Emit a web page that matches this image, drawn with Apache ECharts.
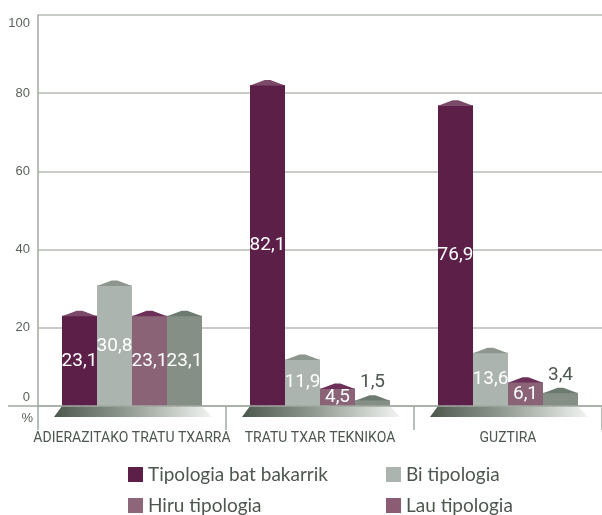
<!DOCTYPE html>
<html>
<head>
<meta charset="utf-8">
<script src="https://cdn.jsdelivr.net/npm/echarts@6/dist/echarts.min.js"></script>
<style>
html,body{margin:0;padding:0;background:#fff;}
#c{width:602px;height:515px;}
</style>
</head>
<body>
<div id="c"></div>
<script>
const categories = ['ADIERAZITAKO TRATU TXARRA', 'TRATU TXAR TEKNIKOA', 'GUZTIRA'];
const seriesNames = ['Tipologia bat bakarrik', 'Bi tipologia', 'Hiru tipologia', 'Lau tipologia'];
const tipologia1 = [23.1, 82.1, 76.9];
const tipologia2 = [30.8, 11.9, 13.6];
const tipologia3 = [23.1, 4.5, 6.1];
const tipologia4 = [23.1, 1.5, 3.4];
const yMin = 0, yMax = 100, yStep = 20;

const allValues = [tipologia1, tipologia2, tipologia3, tipologia4];
const barColors = ['#5b1f48', '#abb4ae', '#8b6377', '#858f86'];
const capColors = ['#7c4a69', '#8c968e', '#6c3059', '#6d7a70'];
const legendColors = ['#5b1f48', '#abb4ae', '#8d6679', '#8b5c74'];
const BAR_W = 35;
const narrow = "'Roboto', 'Liberation Sans', sans-serif";
const fmt = v => String(v).replace('.', ',');

const chart = echarts.init(document.getElementById('c'), null, {renderer: 'canvas'});

const series = [];
allValues.forEach((vals, i) => {
  series.push({
    name: seriesNames[i],
    type: 'bar',
    barWidth: BAR_W,
    barGap: '0%',
    z: 3,
    itemStyle: {color: barColors[i]},
    data: vals.map(v => {
      const small = v < 4;
      return {
        value: v,
        label: {
          show: true,
          position: small ? 'top' : 'inside',
          distance: 8,
          formatter: p => fmt(p.value),
          color: small ? '#4d564f' : '#ffffff',
          fontSize: 19,
          fontFamily: narrow
        }
      };
    })
  });
});
// pyramid caps on top of bars
allValues.forEach((vals, i) => {
  series.push({
    name: 'cap' + i,
    type: 'custom',
    z: 4,
    silent: true,
    encode: {x: 0, y: 1},
    data: vals.map((v, k) => [k, v]),
    renderItem: (params, api) => {
      const p = api.coord([api.value(0), api.value(1)]);
      const x0 = p[0] - 2 * BAR_W + i * BAR_W;
      const y = p[1];
      return {
        type: 'polygon',
        shape: {points: [[x0, y + 0.5], [x0 + BAR_W * 0.42, y - 5], [x0 + BAR_W * 0.58, y - 5], [x0 + BAR_W, y + 0.5]]},
        style: {fill: capColors[i]}
      };
    }
  });
});
// gradient base under each group
series.push({
  name: 'base',
  type: 'custom',
  z: 1,
  silent: true,
  encode: {x: 0, y: 1},
  data: categories.map((c, k) => [k, 0]),
  renderItem: (params, api) => {
    const p = api.coord([api.value(0), 0]);
    const half = 2 * BAR_W;
    const y = p[1];
    return {
      type: 'polygon',
      shape: {points: [[p[0] - half, y], [p[0] + half, y], [p[0] + half + 10, y + 11], [p[0] - half - 8, y + 11]]},
      style: {
        fill: new echarts.graphic.LinearGradient(0, 0, 1, 0, [
          {offset: 0, color: '#4c574d'},
          {offset: 0.45, color: '#8f998f'},
          {offset: 1, color: '#f2f4f2'}
        ])
      }
    };
  }
});

const legendText = {fontSize: 19, color: '#4d564f', fontFamily: "'Lato', 'Open Sans', sans-serif"};
const legendPos = [[128, 465], [386, 465], [128, 496], [386, 496]];
const legends = seriesNames.map((n, i) => ({
  left: legendPos[i][0], top: legendPos[i][1],
  icon: 'rect', itemWidth: 15, itemHeight: 15, itemGap: 4,
  textStyle: legendText, selectedMode: false, padding: 0,
  data: [{name: n, itemStyle: {color: legendColors[i]}}]
}));

const option = {
  animation: false,
  backgroundColor: '#ffffff',
  grid: {left: 38, right: -2, top: 15, bottom: 109, containLabel: false},
  legend: legends,
  xAxis: {
    type: 'category',
    data: categories,
    boundaryGap: true,
    axisLine: {show: true, lineStyle: {color: '#a0a8a1', width: 1.5}},
    axisTick: {show: true, length: 24, lineStyle: {color: '#a0a8a1', width: 1.5}},
    axisLabel: {margin: 25, fontSize: 14, color: '#4d564f', fontFamily: narrow, interval: 0},
    z: 5
  },
  yAxis: {
    type: 'value',
    min: yMin, max: yMax, interval: yStep,
    name: '%',
    nameLocation: 'start',
    nameGap: 6,
    nameTextStyle: {fontSize: 13, color: '#5a625b', align: 'right', verticalAlign: 'top', padding: [0, 5, 0, 0], fontFamily: "'Liberation Sans', Arial, sans-serif"},
    axisLine: {show: true, lineStyle: {color: '#a0a8a1', width: 1.5}},
    axisTick: {show: false},
    splitLine: {show: true, lineStyle: {color: '#b4bbb5', width: 1.5}},
    axisLabel: {
      margin: 8,
      fontSize: 13,
      color: '#5a625b',
      fontFamily: "'Liberation Sans', Arial, sans-serif",
      formatter: v => v === yMin ? '{lo|' + v + '}' : (v === yMax ? '{hi|' + v + '}' : String(v)),
      rich: {
        lo: {fontSize: 13, color: '#5a625b', padding: [0, 0, 18, 0], fontFamily: "'Liberation Sans', Arial, sans-serif"},
        hi: {fontSize: 13, color: '#5a625b', padding: [16, 0, 0, 0], fontFamily: "'Liberation Sans', Arial, sans-serif"}
      }
    }
  },
  series: series
};
chart.setOption(option);

// extend the baseline a little to the left of the value axis, as in the original
const y0 = chart.convertToPixel({yAxisIndex: 0}, yMin);
chart.setOption({
  graphic: [{
    type: 'line', z: 10,
    shape: {x1: 8, y1: y0, x2: 38, y2: y0},
    style: {stroke: '#a0a8a1', lineWidth: 1.5}
  }]
});
</script>
</body>
</html>
